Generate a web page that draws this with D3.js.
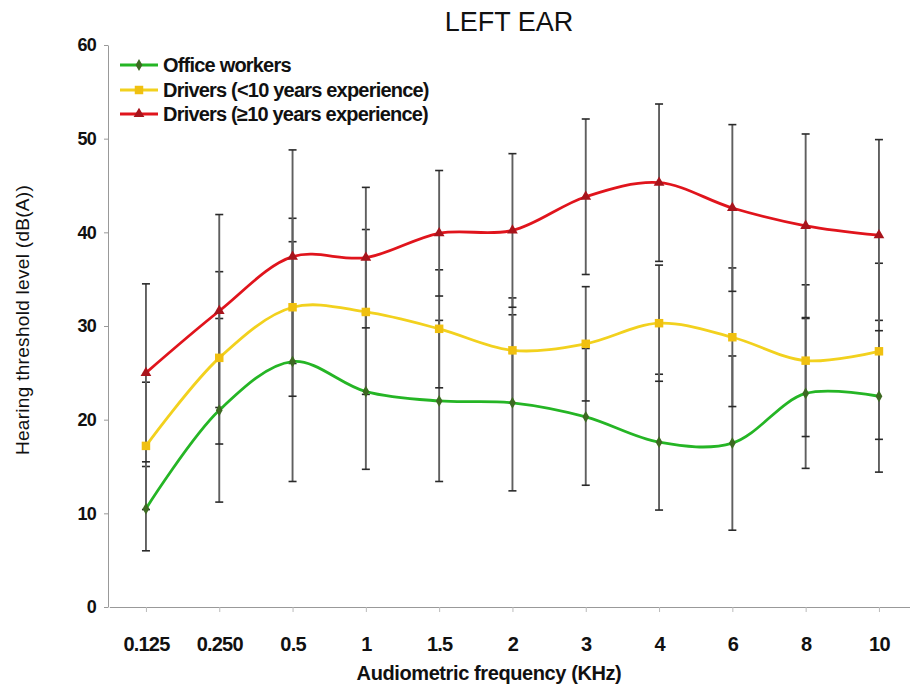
<!DOCTYPE html>
<html><head><meta charset="utf-8">
<script src="https://cdn.jsdelivr.net/npm/d3@7"></script>
<style>
body{margin:0;background:#fff;}
svg{display:block;font-family:"Liberation Sans",Arial,sans-serif;}
</style></head><body>
<svg id="c" width="910" height="688"></svg>
<script>
const categories = ["0.125","0.250","0.5","1","1.5","2","3","4","6","8","10"];
const officeMean = [10.5,21.0,26.2,23.0,22.0,21.8,20.3,17.6,17.5,22.8,22.5];
const officeSD   = [4.5,9.8,12.8,8.3,8.6,9.4,7.3,7.25,9.3,8.0,8.1];
const youngMean  = [17.2,26.6,32.0,31.5,29.7,27.4,28.1,30.3,28.8,26.3,27.3];
const youngSD    = [6.8,9.2,9.5,8.8,6.3,5.6,6.1,6.2,7.4,8.1,9.4];
const oldMean    = [25.0,31.6,37.4,37.3,39.9,40.2,43.8,45.3,42.6,40.7,39.7];
const oldSD      = [9.5,10.3,11.4,7.5,6.7,8.2,8.3,8.4,8.9,9.8,10.2];
const yTicks = [0,10,20,30,40,50,60];

const series = [
  {name:"Office workers", mean:officeMean, sd:officeSD, line:"#25b525", mark:"#3d6a22", shape:d3.symbolDiamond, size:40},
  {name:"Drivers (<10 years experience)", mean:youngMean, sd:youngSD, line:"#f2d11e", mark:"#f0c010", shape:d3.symbolSquare, size:72},
  {name:"Drivers (\u226510 years experience)", mean:oldMean, sd:oldSD, line:"#e0141c", mark:"#a8141c", shape:d3.symbolTriangle, size:50}
];

const svg = d3.select("#c");
const x = d3.scalePoint().domain(categories).range([109.3, 915.6]).padding(0.5);
const y = d3.scaleLinear().domain([0,60]).range([607, 45]);

// axes
const gy = svg.append("g").attr("transform","translate(108,0)")
  .call(d3.axisLeft(y).tickValues(yTicks).tickSize(4).tickSizeOuter(0));
gy.select(".domain").attr("stroke","#999");
gy.selectAll(".tick line").attr("stroke","#999");
gy.selectAll(".tick text").attr("x",-12).attr("font-size","18px").attr("font-weight","bold").attr("fill","#111").attr("letter-spacing","-0.8px");

const gx = svg.append("g").attr("transform","translate(0,607)")
  .call(d3.axisBottom(x).tickSize(5).tickSizeOuter(0));
gx.select(".domain").attr("stroke","#999");
gx.selectAll(".tick line").attr("stroke","#bbb");
gx.selectAll(".tick text").attr("y",30).attr("font-size","20px").attr("font-weight","bold").attr("fill","#111").attr("letter-spacing","-0.8px");

// error bars
series.forEach(s => {
  const g = svg.append("g");
  categories.forEach((c,i) => {
    const cx = x(c), lo = y(s.mean[i]-s.sd[i]), hi = y(s.mean[i]+s.sd[i]);
    g.append("line").attr("x1",cx).attr("x2",cx).attr("y1",lo).attr("y2",hi).attr("stroke","#5f5f5f").attr("stroke-width",1.9);
    [lo,hi].forEach(yy => g.append("line").attr("x1",cx-4).attr("x2",cx+4).attr("y1",yy).attr("y2",yy).attr("stroke","#2a2a2a").attr("stroke-width",1.6));
  });
});

// lines
const lineGen = d3.line().x((d,i)=>x(categories[i])).y(d=>y(d)).curve(d3.curveCatmullRom.alpha(0.5));
series.forEach(s => {
  svg.append("path").attr("d", lineGen(s.mean)).attr("fill","none").attr("stroke",s.line).attr("stroke-width",2.8);
});
// markers
series.forEach(s => {
  svg.append("g").selectAll("path").data(s.mean).join("path")
    .attr("transform",(d,i)=>`translate(${x(categories[i])},${y(d)})`)
    .attr("d", d3.symbol().type(s.shape).size(s.size)())
    .attr("fill", s.mark);
});

// legend
const legY = [65, 90, 114];
series.forEach((s,k) => {
  const g = svg.append("g").attr("transform",`translate(0,${legY[k]})`);
  g.append("line").attr("x1",120).attr("x2",158).attr("y1",0).attr("y2",0).attr("stroke",s.line).attr("stroke-width",2.8);
  g.append("path").attr("transform","translate(139,0)").attr("d", d3.symbol().type(s.shape).size(s.size)()).attr("fill",s.mark);
  g.append("text").attr("x",163).attr("y",7).attr("font-size","20px").attr("font-weight","bold").attr("fill","#111").attr("letter-spacing","-0.8px").text(s.name);
});

// title & labels
svg.append("text").attr("x",509).attr("y",31).attr("text-anchor","middle").attr("font-size","27px").attr("fill","#111").text("LEFT EAR");
svg.append("text").attr("x",489).attr("y",680).attr("text-anchor","middle").attr("font-size","20px").attr("font-weight","bold").attr("fill","#111").attr("letter-spacing","-0.4px").text("Audiometric frequency (KHz)");
svg.append("text").attr("transform","translate(29,320) rotate(-90)").attr("text-anchor","middle").attr("font-size","19px").attr("fill","#111").attr("letter-spacing","0.3px").text("Hearing threshold level (dB(A))");
</script>
</body></html>
